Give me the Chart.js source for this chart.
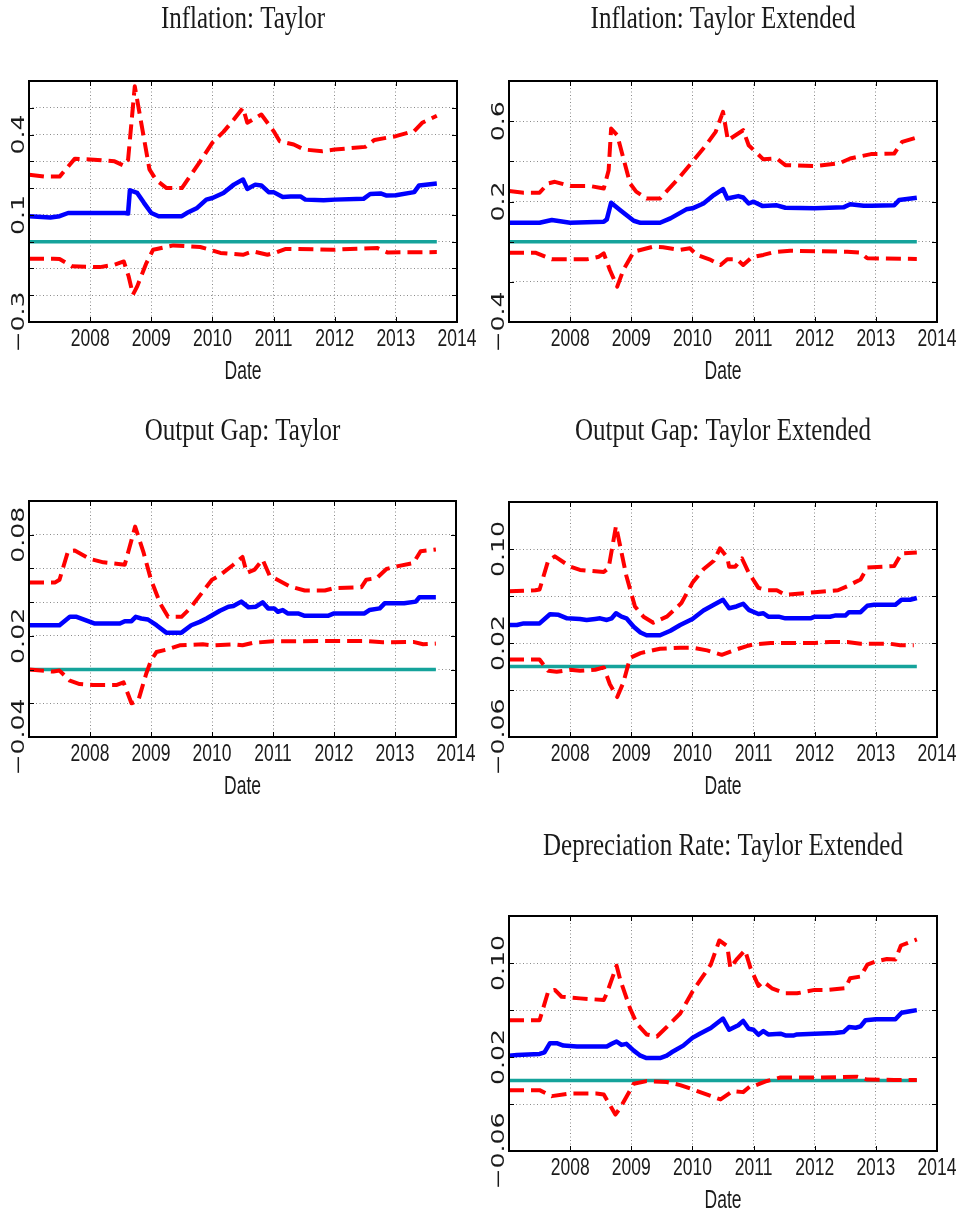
<!DOCTYPE html>
<html>
<head>
<meta charset="utf-8">
<script src="https://cdn.jsdelivr.net/npm/chart.js@4"></script>
<style>
  html, body { margin: 0; padding: 0; background: #fff; }
  #page { position: relative; width: 961px; height: 1214px; overflow: hidden; background: #fff; }
  canvas { position: absolute; }
</style>
</head>
<body>
<div id="page"></div>
<script>
// ---------- Data (decimal years) ----------
const xTickYears = [2008, 2009, 2010, 2011, 2012, 2013, 2014];
const xAxisTitle = "Date";

// Panel 1: Inflation: Taylor
const p1Title = "Inflation: Taylor";
const p1YTickValues = [0.4, 0.1, -0.3];
const p1YTickLabels = ["0.4", "0.1", "\u22120.3"];
const p1UpperX = [2007.0,2007.25,2007.5,2007.75,2008.0,2008.4,2008.55,2008.62,2008.73,2008.97,2009.08,2009.25,2009.5,2009.8,2010.0,2010.18,2010.35,2010.5,2010.57,2010.8,2011.0,2011.1,2011.33,2011.5,2011.8,2012.0,2012.5,2012.65,2013.0,2013.3,2013.43,2013.67];
const p1UpperY = [0.25,0.243,0.243,0.31,0.307,0.30,0.284,0.305,0.58,0.27,0.23,0.20,0.20,0.30,0.37,0.41,0.456,0.50,0.444,0.475,0.413,0.375,0.363,0.344,0.338,0.344,0.354,0.38,0.394,0.413,0.444,0.47];
const p1MeanX = [2007.0,2007.35,2007.5,2007.64,2008.57,2008.62,2008.65,2008.77,2008.88,2009.0,2009.12,2009.5,2009.58,2009.75,2009.9,2010.0,2010.18,2010.35,2010.5,2010.57,2010.7,2010.8,2010.92,2011.0,2011.15,2011.28,2011.44,2011.52,2011.82,2012.0,2012.47,2012.58,2012.75,2012.85,2013.0,2013.3,2013.38,2013.67];
const p1MeanY = [0.095,0.09,0.095,0.107,0.107,0.105,0.192,0.182,0.145,0.107,0.095,0.095,0.107,0.126,0.157,0.163,0.182,0.213,0.232,0.197,0.213,0.21,0.185,0.185,0.167,0.169,0.169,0.157,0.155,0.157,0.16,0.178,0.18,0.172,0.173,0.185,0.21,0.217];
const p1LowerX = [2007.0,2007.4,2007.5,2007.7,2008.16,2008.4,2008.55,2008.63,2008.7,2008.77,2008.92,2009.03,2009.36,2009.8,2009.96,2010.13,2010.5,2010.66,2010.9,2011.05,2011.2,2011.99,2012.25,2012.7,2012.86,2013.67];
const p1LowerY = [-0.064,-0.064,-0.065,-0.092,-0.095,-0.086,-0.074,-0.13,-0.198,-0.167,-0.08,-0.03,-0.014,-0.02,-0.03,-0.042,-0.049,-0.036,-0.049,-0.04,-0.027,-0.03,-0.027,-0.024,-0.04,-0.039];

// Panel 2: Inflation: Taylor Extended
const p2Title = "Inflation: Taylor Extended";
const p2YTickValues = [0.6, 0.2, -0.4];
const p2YTickLabels = ["0.6", "0.2", "\u22120.4"];
const p2UpperX = [2007.0,2007.24,2007.5,2007.64,2007.75,2008.0,2008.33,2008.55,2008.63,2008.67,2008.77,2008.98,2009.08,2009.25,2009.47,2009.75,2010.0,2010.22,2010.38,2010.5,2010.58,2010.83,2010.92,2011.16,2011.38,2011.52,2012.0,2012.4,2012.58,2012.92,2013.3,2013.43,2013.67];
const p2UpperY = [0.252,0.244,0.244,0.29,0.298,0.277,0.277,0.265,0.356,0.563,0.53,0.29,0.249,0.215,0.215,0.307,0.398,0.48,0.547,0.646,0.505,0.555,0.48,0.41,0.414,0.381,0.376,0.39,0.414,0.436,0.439,0.497,0.519];
const p2MeanX = [2007.0,2007.5,2007.7,2008.0,2008.55,2008.6,2008.67,2008.82,2009.04,2009.15,2009.47,2009.64,2009.9,2010.0,2010.18,2010.35,2010.5,2010.57,2010.75,2010.83,2010.92,2011.0,2011.15,2011.38,2011.52,2012.0,2012.47,2012.58,2012.8,2012.93,2013.3,2013.38,2013.67];
const p2MeanY = [0.094,0.094,0.108,0.094,0.099,0.111,0.194,0.157,0.104,0.094,0.094,0.116,0.161,0.166,0.19,0.232,0.262,0.215,0.227,0.22,0.19,0.199,0.177,0.181,0.169,0.166,0.171,0.186,0.179,0.179,0.181,0.207,0.219];
const p2LowerX = [2007.0,2007.43,2007.7,2008.27,2008.47,2008.55,2008.65,2008.77,2008.87,2009.04,2009.36,2009.52,2009.8,2009.96,2010.07,2010.3,2010.46,2010.57,2010.73,2010.83,2010.97,2011.16,2011.32,2011.6,2012.53,2012.75,2012.86,2013.67];
const p2LowerY = [-0.055,-0.055,-0.088,-0.088,-0.075,-0.058,-0.141,-0.224,-0.141,-0.05,-0.025,-0.028,-0.041,-0.033,-0.066,-0.091,-0.116,-0.088,-0.088,-0.116,-0.078,-0.066,-0.053,-0.045,-0.05,-0.055,-0.083,-0.086];

// Panel 3: Output Gap: Taylor
const p3Title = "Output Gap: Taylor";
const p3YTickValues = [0.08, 0.02, -0.04];
const p3YTickLabels = ["0.08", "0.02", "\u22120.04"];
const p3UpperX = [2007.0,2007.43,2007.5,2007.64,2007.75,2008.0,2008.22,2008.57,2008.63,2008.74,2008.88,2009.0,2009.15,2009.28,2009.5,2009.64,2010.0,2010.12,2010.35,2010.5,2010.57,2010.7,2010.83,2010.95,2011.05,2011.28,2011.52,2011.85,2012.0,2012.45,2012.53,2012.7,2012.86,2013.03,2013.3,2013.42,2013.67];
const p3UpperY = [0.0517,0.0517,0.0533,0.0702,0.0706,0.0656,0.0636,0.0622,0.0702,0.0848,0.0692,0.0533,0.0393,0.0313,0.0313,0.0363,0.0533,0.0557,0.0622,0.0668,0.0573,0.0593,0.0652,0.0553,0.0537,0.0493,0.0469,0.0469,0.0483,0.0489,0.0533,0.0543,0.0597,0.0612,0.0632,0.0702,0.0712];
const p3MeanX = [2007.0,2007.5,2007.67,2007.78,2008.08,2008.49,2008.57,2008.68,2008.75,2008.84,2008.95,2009.09,2009.25,2009.5,2009.66,2009.8,2009.91,2010.13,2010.27,2010.35,2010.48,2010.6,2010.72,2010.83,2010.92,2011.02,2011.08,2011.16,2011.24,2011.41,2011.52,2011.9,2012.0,2012.5,2012.58,2012.75,2012.83,2013.15,2013.34,2013.4,2013.67];
const p3MeanY = [0.0263,0.0263,0.0313,0.0313,0.0273,0.0273,0.0287,0.0287,0.0313,0.0303,0.0297,0.0263,0.0219,0.0219,0.0263,0.0283,0.0303,0.0349,0.0373,0.0377,0.0403,0.0369,0.0373,0.0399,0.0363,0.0363,0.0343,0.0353,0.0333,0.0333,0.0319,0.0319,0.0333,0.0333,0.0353,0.0363,0.0393,0.0393,0.0403,0.0429,0.0429];
const p3LowerX = [2007.0,2007.4,2007.5,2007.67,2007.83,2008.05,2008.43,2008.55,2008.68,2008.79,2008.92,2009.0,2009.09,2009.25,2009.47,2009.85,2010.0,2010.35,2010.5,2010.66,2011.0,2012.53,2012.8,2013.3,2013.46,2013.67];
const p3LowerY = [0.0,-0.0012,-0.0006,-0.0066,-0.0086,-0.0092,-0.0092,-0.0076,-0.02,-0.0186,-0.0026,0.0054,0.0104,0.0118,0.0144,0.015,0.0144,0.015,0.0144,0.0158,0.0168,0.017,0.0162,0.0164,0.015,0.0154];

// Panel 4: Output Gap: Taylor Extended
const p4Title = "Output Gap: Taylor Extended";
const p4YTickValues = [0.10, 0.02, -0.06];
const p4YTickLabels = ["0.10", "0.02", "\u22120.06"];
const p4UpperX = [2007.0,2007.43,2007.5,2007.64,2007.75,2008.0,2008.16,2008.55,2008.63,2008.75,2008.92,2009.06,2009.2,2009.36,2009.58,2009.82,2010.0,2010.18,2010.35,2010.45,2010.57,2010.6,2010.7,2010.81,2010.92,2011.08,2011.22,2011.38,2011.52,2012.0,2012.38,2012.53,2012.75,2012.86,2013.3,2013.42,2013.67];
const p4UpperY = [0.064,0.0649,0.0655,0.09,0.0937,0.085,0.0822,0.0804,0.084,0.1196,0.077,0.0511,0.0424,0.0373,0.0424,0.054,0.0712,0.0827,0.09,0.1006,0.0928,0.085,0.085,0.092,0.0799,0.0669,0.0649,0.0649,0.0611,0.0632,0.0649,0.0683,0.0741,0.0842,0.0856,0.0963,0.0971];
const p4MeanX = [2007.0,2007.13,2007.24,2007.5,2007.67,2007.81,2007.95,2008.16,2008.27,2008.41,2008.49,2008.6,2008.68,2008.75,2008.84,2008.92,2009.04,2009.15,2009.25,2009.47,2009.64,2009.8,2010.0,2010.18,2010.35,2010.5,2010.6,2010.72,2010.83,2010.92,2011.08,2011.16,2011.24,2011.41,2011.52,2011.93,2012.0,2012.25,2012.33,2012.5,2012.56,2012.75,2012.86,2012.97,2013.32,2013.42,2013.56,2013.67];
const p4MeanY = [0.0353,0.0353,0.0367,0.0367,0.0445,0.044,0.041,0.0405,0.0396,0.0405,0.041,0.0396,0.041,0.0453,0.0424,0.041,0.0338,0.0289,0.0266,0.0266,0.0304,0.0353,0.0404,0.0476,0.0525,0.0568,0.0496,0.0511,0.0534,0.0482,0.0447,0.0453,0.0424,0.0424,0.041,0.041,0.0424,0.0424,0.0433,0.0433,0.0462,0.0462,0.0517,0.0525,0.0525,0.0568,0.0568,0.0583];
const p4LowerX = [2007.0,2007.5,2007.64,2007.78,2008.0,2008.16,2008.41,2008.55,2008.65,2008.77,2008.87,2008.98,2009.15,2009.47,2009.8,2010.0,2010.24,2010.48,2010.67,2010.89,2011.0,2011.28,2012.0,2012.25,2012.53,2012.75,2013.23,2013.4,2013.62];
const p4LowerY = [0.0059,0.0059,-0.0036,-0.0045,-0.0028,-0.0036,-0.0028,-0.0008,-0.0151,-0.026,-0.0137,0.0073,0.0114,0.0151,0.016,0.016,0.0137,0.0099,0.0137,0.0174,0.0188,0.02,0.02,0.0209,0.0209,0.0194,0.0194,0.018,0.018];

// Panel 5: Depreciation Rate: Taylor Extended
const p5Title = "Depreciation Rate: Taylor Extended";
const p5YTickValues = [0.10, 0.02, -0.06];
const p5YTickLabels = ["0.10", "0.02", "\u22120.06"];
const p5UpperX = [2007.0,2007.5,2007.64,2007.75,2007.86,2008.16,2008.55,2008.6,2008.76,2008.82,2008.98,2009.09,2009.25,2009.42,2009.58,2009.8,2010.0,2010.15,2010.3,2010.44,2010.57,2010.62,2010.72,2010.86,2010.95,2011.08,2011.16,2011.3,2011.52,2011.71,2012.0,2012.21,2012.5,2012.58,2012.75,2012.86,2013.0,2013.18,2013.32,2013.41,2013.67];
const p5UpperY = [0.0513,0.0513,0.0756,0.0771,0.0713,0.0699,0.0685,0.0742,0.0977,0.0857,0.0613,0.0484,0.0392,0.0375,0.0455,0.057,0.0756,0.0871,0.0986,0.1192,0.1143,0.0957,0.1029,0.1109,0.0957,0.0805,0.0842,0.0785,0.0742,0.0742,0.0771,0.0771,0.0785,0.0871,0.0885,0.0986,0.1014,0.1034,0.1029,0.1149,0.1201];
const p5MeanX = [2007.0,2007.13,2007.5,2007.58,2007.67,2007.78,2007.89,2008.11,2008.6,2008.68,2008.76,2008.84,2008.92,2009.04,2009.15,2009.25,2009.47,2009.58,2009.66,2009.85,2010.0,2010.12,2010.3,2010.5,2010.6,2010.75,2010.83,2010.92,2011.0,2011.08,2011.16,2011.24,2011.44,2011.52,2011.66,2011.71,2012.0,2012.33,2012.47,2012.56,2012.67,2012.75,2012.83,2013.0,2013.32,2013.42,2013.56,2013.67];
const p5MeanY = [0.0211,0.0217,0.0226,0.024,0.0318,0.0318,0.0297,0.0289,0.0289,0.0312,0.0332,0.0303,0.0312,0.0254,0.0211,0.0191,0.0191,0.0211,0.024,0.0297,0.0363,0.0398,0.0447,0.0527,0.0432,0.047,0.0507,0.0441,0.0432,0.0389,0.0421,0.0392,0.0398,0.0384,0.0384,0.0392,0.0398,0.0404,0.0412,0.0455,0.0449,0.0461,0.0513,0.0521,0.0521,0.0576,0.059,0.0599];
const p5LowerX = [2007.0,2007.5,2007.7,2008.0,2008.43,2008.55,2008.63,2008.74,2008.82,2009.04,2009.25,2009.58,2009.8,2010.0,2010.35,2010.46,2010.66,2010.83,2010.95,2011.03,2011.22,2011.44,2012.0,2012.7,2012.86,2013.3,2013.67];
const p5LowerY = [-0.0082,-0.0082,-0.0133,-0.011,-0.011,-0.0119,-0.019,-0.029,-0.0233,-0.0028,-0.0005,-0.0013,-0.0039,-0.0075,-0.0141,-0.0161,-0.009,-0.0099,-0.0047,-0.0041,-0.0004,0.0025,0.0025,0.0031,0.0008,0.0005,0.0004];

// zero reference line
const zeroLineX = [2007.0, 2013.67];
const zeroLineY = [0, 0];

// ---------- Layout / styling ----------
const panels = [
  { title: p1Title, yl: p1YTickValues, yt: p1YTickLabels, up: [p1UpperX,p1UpperY], mean: [p1MeanX,p1MeanY], lo: [p1LowerX,p1LowerY],
    yMin: -0.3, yMax: 0.6, yStep: 0.1, box: [0,0,480,405], area: [29,81,457,322], titleY: 19.5 },
  { title: p2Title, yl: p2YTickValues, yt: p2YTickLabels, up: [p2UpperX,p2UpperY], mean: [p2MeanX,p2MeanY], lo: [p2LowerX,p2LowerY],
    yMin: -0.4, yMax: 0.8, yStep: 0.2, box: [480,0,481,405], area: [509,81,937,322], titleY: 19.5 },
  { title: p3Title, yl: p3YTickValues, yt: p3YTickLabels, up: [p3UpperX,p3UpperY], mean: [p3MeanX,p3MeanY], lo: [p3LowerX,p3LowerY],
    yMin: -0.04, yMax: 0.10, yStep: 0.02, box: [0,405,480,410], area: [29,501,456,737], titleY: 432 },
  { title: p4Title, yl: p4YTickValues, yt: p4YTickLabels, up: [p4UpperX,p4UpperY], mean: [p4MeanX,p4MeanY], lo: [p4LowerX,p4LowerY],
    yMin: -0.06, yMax: 0.14, yStep: 0.04, box: [480,405,481,410], area: [509,502,937,737], titleY: 432 },
  { title: p5Title, yl: p5YTickValues, yt: p5YTickLabels, up: [p5UpperX,p5UpperY], mean: [p5MeanX,p5MeanY], lo: [p5LowerX,p5LowerY],
    yMin: -0.06, yMax: 0.14, yStep: 0.04, box: [480,815,481,399], area: [509,916,937,1151], titleY: 847 }
];

const RED = '#ff0000', BLUE = '#0000ff', TEAL = '#15a39b', TXT = '#1a1a1a';

function zip(xs, ys) { return xs.map((x, i) => ({ x: x, y: ys[i] })); }

function drawText(ctx, text, x, y, font, sy, rot) {
  ctx.save();
  ctx.translate(x, y);
  ctx.scale(1, sy);
  if (rot) ctx.rotate(rot);
  ctx.font = font;
  ctx.fillStyle = TXT;
  ctx.textAlign = 'center';
  ctx.textBaseline = 'middle';
  ctx.fillText(text, 0, 0);
  ctx.restore();
}

const decorPlugin = {
  id: 'matlabDecor',
  afterDraw(chart, args, opts) {
    const p = opts.panel;
    const ctx = chart.ctx;
    const a = chart.chartArea;
    const xs = chart.scales.x, ys = chart.scales.y;
    ctx.save();
    // inner tick marks
    ctx.strokeStyle = '#000';
    ctx.lineWidth = 1;
    ctx.beginPath();
    xTickYears.forEach(v => {
      const px = Math.round(xs.getPixelForValue(v)) + 0.5;
      ctx.moveTo(px, a.bottom); ctx.lineTo(px, a.bottom - 5);
      ctx.moveTo(px, a.top); ctx.lineTo(px, a.top + 5);
    });
    ys.ticks.forEach(t => {
      const py = Math.round(ys.getPixelForValue(t.value)) + 0.5;
      ctx.moveTo(a.left, py); ctx.lineTo(a.left + 5, py);
      ctx.moveTo(a.right, py); ctx.lineTo(a.right - 5, py);
    });
    ctx.stroke();
    // box
    ctx.lineWidth = 2;
    ctx.strokeStyle = '#000';
    ctx.strokeRect(a.left, a.top, a.right - a.left, a.bottom - a.top);
    ctx.restore();

    // title
    const cx = (a.left + a.right) / 2;
    drawText(ctx, p.title, cx, p.titleY - p.box[1], '25px "Liberation Serif"', 1.27, 0);
    // x tick labels
    xTickYears.forEach(v => {
      drawText(ctx, String(v), xs.getPixelForValue(v), a.bottom + 17, '17.5px "Liberation Sans"', 1.4, 0);
    });
    // x axis title
    drawText(ctx, xAxisTitle, cx, a.bottom + 50, '17.5px "Liberation Sans"', 1.5, 0);
    // y tick labels (rotated)
    p.yl.forEach((v, i) => {
      drawText(ctx, p.yt[i], a.left - 9.5, ys.getPixelForValue(v), '18px "DejaVu Sans"', 1.4, -Math.PI / 2);
    });
  }
};

const page = document.getElementById('page');
panels.forEach((p, idx) => {
  const [bx, by, bw, bh] = p.box;
  const [l, t, r, b] = p.area;
  const cv = document.createElement('canvas');
  cv.width = bw; cv.height = bh;
  cv.style.left = bx + 'px'; cv.style.top = by + 'px';
  cv.style.width = bw + 'px'; cv.style.height = bh + 'px';
  page.appendChild(cv);

  new Chart(cv, {
    type: 'line',
    data: {
      datasets: [
        { label: 'upper', data: zip(p.up[0], p.up[1]), borderColor: RED, borderWidth: 4, borderDash: [15, 7], borderCapStyle: 'butt' },
        { label: 'lower', data: zip(p.lo[0], p.lo[1]), borderColor: RED, borderWidth: 4, borderDash: [15, 7], borderCapStyle: 'butt' },
        { label: 'estimate', data: zip(p.mean[0], p.mean[1]), borderColor: BLUE, borderWidth: 4.5 },
        { label: 'zero', data: zip(zeroLineX, zeroLineY), borderColor: TEAL, borderWidth: 3.5 }
      ]
    },
    options: {
      responsive: false,
      animation: false,
      devicePixelRatio: 1,
      events: [],
      layout: { padding: { left: l - bx, top: t - by, right: bx + bw - r, bottom: by + bh - b } },
      elements: {
        point: { radius: 0 },
        line: { tension: 0, fill: false, borderJoinStyle: 'round' }
      },
      plugins: {
        legend: { display: false },
        title: { display: false },
        tooltip: { enabled: false },
        matlabDecor: { panel: p }
      },
      scales: {
        x: {
          type: 'linear', min: 2007, max: 2014,
          ticks: { display: false, stepSize: 1 },
          grid: { color: '#8a8a8a', lineWidth: 1, drawTicks: false },
          border: { display: false, dash: [1, 2.5] },
          afterFit: s => { s.height = 0; }
        },
        y: {
          type: 'linear', min: p.yMin, max: p.yMax,
          ticks: { display: false, stepSize: p.yStep },
          grid: { color: '#8a8a8a', lineWidth: 1, drawTicks: false },
          border: { display: false, dash: [1, 2.5] },
          afterFit: s => { s.width = 0; }
        }
      }
    },
    plugins: [decorPlugin]
  });
});
</script>
</body>
</html>
